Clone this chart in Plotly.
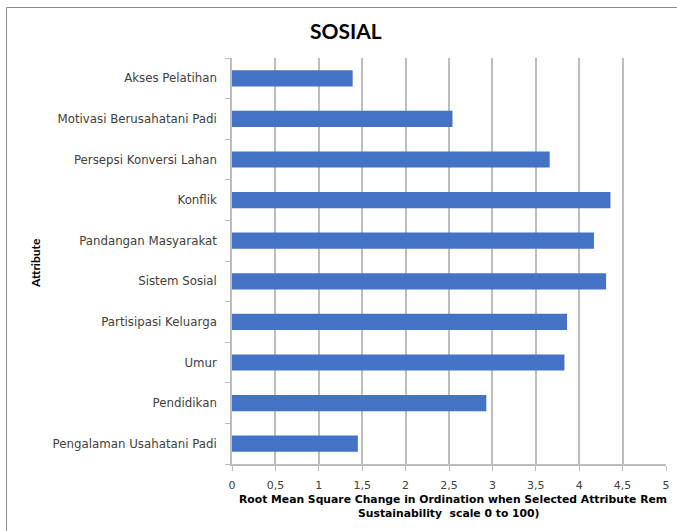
import plotly.graph_objects as go

# Data (top to bottom as shown)
attributes = [
    "Akses Pelatihan",
    "Motivasi Berusahatani Padi",
    "Persepsi Konversi Lahan",
    "Konflik",
    "Pandangan Masyarakat",
    "Sistem Sosial",
    "Partisipasi Keluarga",
    "Umur",
    "Pendidikan",
    "Pengalaman Usahatani Padi",
]
rms_values = [1.39, 2.54, 3.66, 4.36, 4.17, 4.31, 3.86, 3.83, 2.93, 1.45]
x_tick_vals = [0, 0.5, 1, 1.5, 2, 2.5, 3, 3.5, 4, 4.5, 5]
x_tick_text = ["0", "0,5", "1", "1,5", "2", "2,5", "3", "3,5", "4", "4,5", "5"]

title_text = "SOSIAL"
y_title = "Attribute"
# the reference picture is cropped at its right edge inside this line
x_title_line1 = "Root Mean Square Change in Ordination when Selected Attribute Rem"
x_title_line2 = "Sustainability  scale 0 to 100)"

W, H = 677, 531
L, R, T, B = 232, 11, 58, 67
PW, PH = W - L - R, H - T - B


def px(x):
    return (x - L) / PW


def py(y):
    return (H - B - y) / PH


fig = go.Figure(
    go.Bar(
        x=rms_values,
        y=attributes,
        orientation="h",
        marker=dict(color="#4472C4", line=dict(width=0)),
        width=0.4,
    )
)

grid_col = "#bdbdbd"
fig.update_layout(
    width=W,
    height=H,
    margin=dict(l=L, r=R, t=T, b=B, pad=0),
    paper_bgcolor="white",
    plot_bgcolor="white",
    showlegend=False,
    font=dict(family="DejaVu Sans", color="#404040"),
    xaxis=dict(
        range=[0, 5],
        tickvals=x_tick_vals,
        ticktext=x_tick_text,
        showgrid=True,
        gridcolor=grid_col,
        gridwidth=1.5,
        showline=True,
        linecolor=grid_col,
        linewidth=1.5,
        ticks="outside",
        ticklen=5,
        tickcolor=grid_col,
        tickwidth=1,
        tickfont=dict(family="DejaVu Sans", size=11, color="#404040"),
        ticklabelstandoff=5,
        zeroline=False,
        fixedrange=True,
        automargin=False,
    ),
    yaxis=dict(
        categoryorder="array",
        categoryarray=attributes[::-1],
        range=[-0.5, 9.5],
        showgrid=False,
        showline=True,
        linecolor=grid_col,
        linewidth=1.5,
        ticks="outside",
        tickson="boundaries",
        ticklen=5,
        tickcolor=grid_col,
        tickwidth=1,
        tickfont=dict(family="DejaVu Sans", size=11.8, color="#404040"),
        ticklabelstandoff=11,
        zeroline=False,
        fixedrange=True,
        automargin=False,
    ),
    shapes=[
        dict(
            type="rect", xref="paper", yref="paper",
            x0=px(6.5), x1=px(W + 20),
            y0=py(H + 20), y1=py(7.5),
            line=dict(color="#8c8c8c", width=1),
            fillcolor="rgba(0,0,0,0)",
            layer="below",
        )
    ],
    annotations=[
        dict(
            text="<b>" + title_text + "</b>",
            xref="paper", yref="paper",
            x=px(345.5), y=py(30.5),
            xanchor="center", yanchor="middle", showarrow=False,
            font=dict(family="Lato", size=21, color="#000000"),
        ),
        dict(
            text="<b>" + y_title + "</b>",
            xref="paper", yref="paper",
            x=px(35), y=py(263),
            xanchor="center", yanchor="middle", showarrow=False,
            textangle=-90,
            font=dict(family="Lato", size=12, color="#000000"),
        ),
        dict(
            text="<b>" + x_title_line1 + "</b>",
            xref="paper", yref="paper",
            x=px(237), y=py(499),
            xanchor="left", yanchor="middle", showarrow=False,
            font=dict(family="DejaVu Sans", size=10.8, color="#000000"),
        ),
        dict(
            text="<b>" + x_title_line2 + "</b>",
            xref="paper", yref="paper",
            x=px(449), y=py(513),
            xanchor="center", yanchor="middle", showarrow=False,
            font=dict(family="DejaVu Sans", size=10.8, color="#000000"),
        ),
    ],
)

fig.write_html(
    "out.html",
    config={"displayModeBar": False},
    post_script="document.body.style.margin='0';document.body.style.overflow='hidden';",
)
